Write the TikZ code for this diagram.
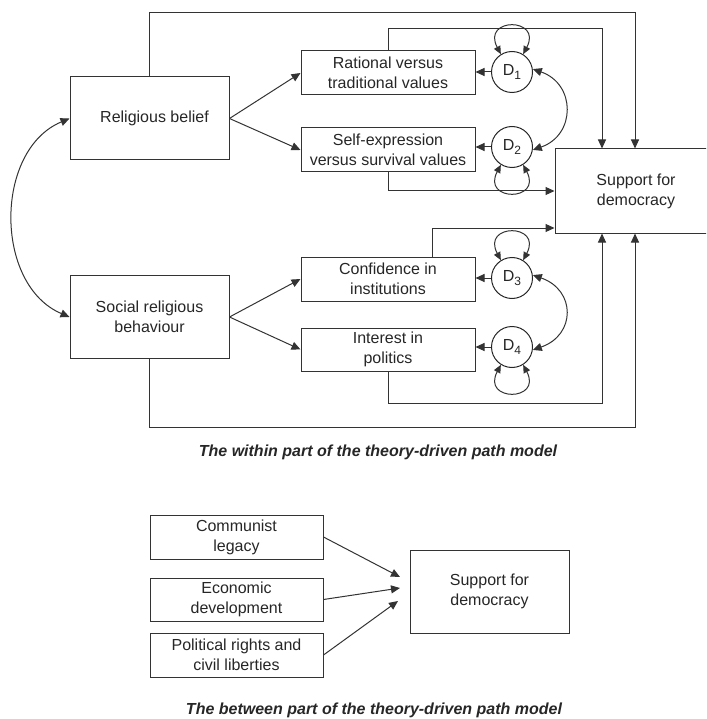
\documentclass[tikz,border=0pt]{standalone}
\usepackage{fontspec}
\setmainfont{Liberation Sans}
\usetikzlibrary{arrows.meta}
\newcommand{\Dsub}[1]{D\raisebox{-0.5ex}{\fontsize{12}{12}\selectfont #1}}
\begin{document}
\begin{tikzpicture}[x=1pt,y=-1pt,
  every node/.style={font=\fontsize{16}{20}\selectfont, text=black!85},
  box/.style={draw=black!80, line width=1pt, rectangle, align=center, inner sep=0pt},
  dcirc/.style={draw=black!85, line width=1pt, circle, minimum size=41pt, inner sep=0pt},
  ln/.style={draw=black!80, line width=1pt},
  arr/.style={ln, -{Triangle[length=9pt,width=8pt]}},
  dbl/.style={ln, {Triangle[length=9pt,width=8pt]}-{Triangle[length=9pt,width=8pt]}},
  loopdbl/.style={ln, {Triangle[length=8pt,width=7pt]}-{Triangle[length=8pt,width=7pt]}},
  captext/.style={font=\fontsize{16}{20}\selectfont\bfseries\itshape, text=black!85}
]
\useasboundingbox (0,0) rectangle (706,719);
\begin{scope}
\clip (0,0) rectangle (706,719);
% boxes
\node[box, minimum width=159pt, minimum height=83pt] (rb) at (149.5,118.5) {\hspace*{10pt}Religious belief};
\node[box, minimum width=159pt, minimum height=83pt] (srb) at (149.5,317) {Social religious\\behaviour};
\node[box, minimum width=174pt, minimum height=44pt] (rat) at (388,73) {Rational versus\\traditional values};
\node[box, minimum width=174pt, minimum height=44pt] (self) at (388,150) {Self-expression\\versus survival values};
\node[box, minimum width=174pt, minimum height=44pt] (conf) at (388,279) {Confidence in\\institutions};
\node[box, minimum width=174pt, minimum height=43pt] (int) at (388,349.5) {Interest in\\politics};
\node[box, minimum width=162pt, minimum height=84pt] (sup) at (636,191) {Support for\\democracy};
% disturbance circles
\node[dcirc] (D1) at (512,72) {\Dsub{1}};
\node[dcirc] (D2) at (512,147) {\Dsub{2}};
\node[dcirc] (D3) at (512,278) {\Dsub{3}};
\node[dcirc] (D4) at (512,347) {\Dsub{4}};
% coordinates for routed paths
\coordinate (c1) at (635,13);
\coordinate (c2) at (602,29);
\coordinate (c3) at (432,228);
\coordinate (c4) at (602,403);
\coordinate (c5) at (635,427);
% paths to support
\draw[arr] (rb.north) |- (c1) -- (c1 |- sup.north);
\draw[arr] (rat.north) |- (c2) -- (c2 |- sup.north);
\draw[arr] (self.south) |- (sup.west);
\draw[arr] (c3 |- conf.north) -- (c3) -- (c3 -| sup.west);
\draw[arr] (int.south) |- (c4) -- (c4 |- sup.south);
\draw[arr] (srb.south) |- (c5) -- (c5 |- sup.south);
% direct arrows
\draw[arr] (rb.east) -- (rat.west);
\draw[arr] (rb.east) -- (self.west);
\draw[arr] (srb.east) -- (conf.west);
\draw[arr] (srb.east) -- (int.west);
% D arrows into boxes
\draw[arr] (D1.west) -- (D1.west -| rat.east);
\draw[arr] (D2.west) -- (D2.west -| self.east);
\draw[arr] (D3.west) -- (D3.west -| conf.east);
\draw[arr] (D4.west) -- (D4.west -| int.east);
% self loops (y axis points down: negative angles go up on the page)
\draw[loopdbl] (D1.122) .. controls +(-118:42) and +(-62:42) .. (D1.58);
\draw[loopdbl] (D2.-122) .. controls +(118:42) and +(62:42) .. (D2.-58);
\draw[loopdbl] (D3.122) .. controls +(-118:42) and +(-62:42) .. (D3.58);
\draw[loopdbl] (D4.-122) .. controls +(118:42) and +(62:42) .. (D4.-58);
% covariances
\draw[dbl] (D1.8) .. controls (576,84) and (576,135) .. (D2.-8);
\draw[dbl] (D3.8) .. controls (576,290) and (576,335) .. (D4.-8);
\draw[dbl] (rb.west) .. controls (-6,150) and (-6,285) .. (srb.west);
% caption 1
\node[captext] (cap1) at (378,452) {The within part of the theory-driven path model};
% lower part
\node[box, minimum width=173pt, minimum height=44pt] (comm) at (236.5,537) {Communist\\legacy};
\node[box, minimum width=173pt, minimum height=43pt] (econ) at (236.5,599.5) {Economic\\development};
\node[box, minimum width=173pt, minimum height=44pt] (pol) at (236.5,655) {Political rights and\\civil liberties};
\node[box, minimum width=159pt, minimum height=83pt] (sup2) at (489.5,591.5) {Support for\\democracy};
\coordinate (e1) at (400,577);
\coordinate (e2) at (400,588);
\coordinate (e3) at (398,601);
\draw[arr] (comm.east) -- (e1);
\draw[arr] (econ.east) -- (e2);
\draw[arr] (pol.east) -- (e3);
\node[captext] (cap2) at (374,710) {The between part of the theory-driven path model};
\end{scope}
\end{tikzpicture}
\end{document}
